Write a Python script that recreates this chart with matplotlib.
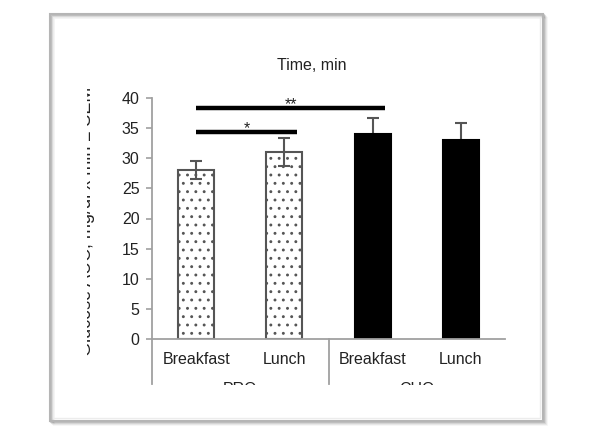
import numpy as np
import matplotlib
matplotlib.use('Agg')
import matplotlib.pyplot as plt
from matplotlib.patches import Rectangle
from matplotlib.transforms import Bbox, blended_transform_factory

plt.rcParams['font.family'] = ['Liberation Sans', 'DejaVu Sans']
plt.rcParams['hatch.linewidth'] = 0.9
plt.rcParams['hatch.color'] = '#555555'

# data
meals = ['Breakfast', 'Lunch', 'Breakfast', 'Lunch']
groups = ['PRO', 'CHO']
auc = [28.0, 31.0, 34.1, 33.0]
auc_err = [1.5, 2.3, 2.6, 2.9]
sig_pairs = [(0, 1), (0, 2)]
sig_heights = [34.3, 38.3]
sig_marks = ['*', '**']

W, H = 596, 445
fig = plt.figure(figsize=(W / 100, H / 100), dpi=100)

# background frame with a soft shadow
bg = fig.add_axes([0, 0, 1, 1])
bg.set_xlim(0, W)
bg.set_ylim(H, 0)
bg.axis('off')
for i, a in enumerate([0.16, 0.10, 0.06, 0.03]):
    bg.add_patch(Rectangle((51 + i, 15 + i), 493, 407, fill=False,
                           ec='black', alpha=a, lw=1.5))
bg.add_patch(Rectangle((50, 14), 493, 407, fill=False, ec='#b5b5b5', lw=1.5))
bg.add_patch(Rectangle((53, 17), 487, 401, fill=False, ec='#ececec', lw=1.0))

# main axes
ax = fig.add_axes([152 / W, 1 - 339 / H, (505 - 152) / W, (339 - 98) / H])
x = np.arange(len(auc))
ax.errorbar(x, auc, yerr=auc_err, fmt='none', ecolor='#555555',
            elinewidth=1.5, capsize=4.5, capthick=1.5, zorder=1)
bars = ax.bar(x, auc, width=0.41, zorder=2, linewidth=1.5)
for k, b in enumerate(bars):
    if k < 2:
        b.set_facecolor('none')
        b.set_edgecolor('#555555')
        b.set_hatch('..')
    else:
        b.set_facecolor('black')
        b.set_edgecolor('black')

ax.set_xlim(-0.5, 3.5)
ax.set_ylim(0, 40)
ax.set_yticks(range(0, 41, 5))
ax.set_xticks(x, meals)
for s in ['top', 'right']:
    ax.spines[s].set_visible(False)
for s in ['left', 'bottom']:
    ax.spines[s].set_color('#a0a0a0')
    ax.spines[s].set_linewidth(1.3)
ax.tick_params(axis='y', direction='out', length=4, width=1.2, color='#a0a0a0',
               labelsize=11.5, labelcolor='#222222', pad=5)
ax.tick_params(axis='x', length=0, labelsize=11.5, labelcolor='#222222', pad=9)

# group separators below the axis
tr = blended_transform_factory(ax.transData, ax.transAxes)
for xs in [-0.5, 1.5]:
    ax.plot([xs, xs], [-0.187, 0], transform=tr, color='#a0a0a0', lw=1.3,
            clip_on=False)

# significance bars
for (i, j), h, m in zip(sig_pairs, sig_heights, sig_marks):
    ax.plot([i, j + 0.14], [h, h], color='black', lw=3.2,
            solid_capstyle='butt', zorder=3)
    ax.text((i + j + 0.14) / 2, h - 0.15, m, ha='center', va='baseline',
            fontsize=11.5, color='#222222')

fig.text(312 / W, 1 - 65 / H, 'Time, min', ha='center', va='center',
         fontsize=11.5, color='#222222')

# group labels, cut at the bottom like the screenshot
for g, gx in zip(groups, [0.5, 2.5]):
    t = ax.text(gx, 1 - 382 / H, g,
                transform=blended_transform_factory(ax.transData, fig.transFigure),
                ha='center', va='top', fontsize=11.5, color='#222222')
    t.set_clip_box(Bbox.from_extents(0, H - 385, W, H))
    t.set_clip_on(True)

# y label, cut at the left
yl = fig.text(87 / W, 1 - 221 / H, 'Glucose AUC, mg/dl x min \u00b1 SEM',
              rotation=90, ha='center', va='center', fontsize=13,
              color='#222222')
yl.set_clip_box(Bbox.from_extents(87, 0, W, H))
yl.set_clip_on(True)

fig.savefig('out.png', dpi=100)
